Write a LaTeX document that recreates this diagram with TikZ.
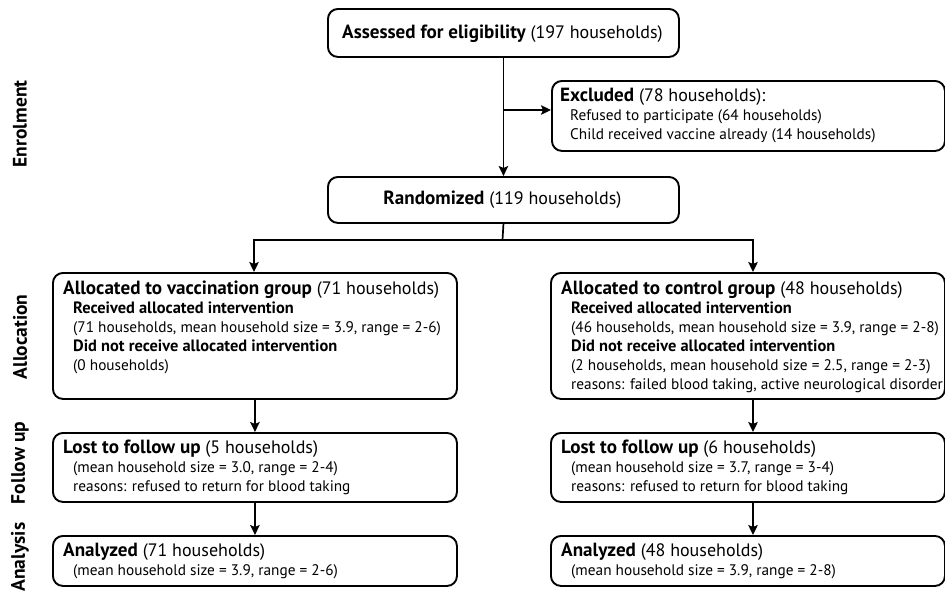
\documentclass[tikz,border=0pt]{standalone}
\usepackage{fontspec}
\setmainfont{PT Sans}
\usetikzlibrary{arrows.meta}
\newcommand\ttlfont{\fontsize{18}{19}\selectfont}
\newcommand\ttlb[1]{{\fontsize{19.1}{19}\selectfont\bfseries #1}}
\newcommand\subb[1]{{\fontsize{16.4}{19}\selectfont\bfseries #1}}
\begin{document}
\begin{tikzpicture}[x=1pt,y=-1pt,
  box/.style={draw, line width=1.9pt, rounded corners=10pt, inner sep=0pt, anchor=north west},
  txt/.style={inner sep=0pt, align=left, anchor=base west, font=\fontsize{15.3}{19}\selectfont},
  ctxt/.style={inner sep=0pt, anchor=base, font=\ttlfont},
  side/.style={rotate=90, font=\bfseries\fontsize{19.5}{20}\selectfont, inner sep=0pt},
  arr/.style={line width=1.7pt, -{Stealth[length=10pt,width=9.5pt,inset=2pt]}},
  ln/.style={line width=1.7pt}]
\useasboundingbox (0,0) rectangle (945,590);

% boxes
\node[box, minimum width=351, minimum height=48] (assess) at (327,8) {};
\node[box, minimum width=393, minimum height=70] (excl) at (551,80) {};
\node[box, minimum width=351, minimum height=46] (rand) at (327,176) {};
\node[box, minimum width=404, minimum height=126] (allocL) at (52,272) {};
\node[box, minimum width=394, minimum height=126] (allocR) at (550,272) {};
\node[box, minimum width=404, minimum height=69] (followL) at (52,432) {};
\node[box, minimum width=394, minimum height=69] (followR) at (550,432) {};
\node[box, minimum width=404, minimum height=50] (anaL) at (52,535) {};
\node[box, minimum width=394, minimum height=50] (anaR) at (550,535) {};

% texts (anchored at the baseline of their last line)
\node[ctxt] (assessT) at (502.5,38) {\ttlb{Assessed for eligibility} (197 households)};
\node[txt] (exclT) at (560,139) {{\ttlfont\ttlb{Excluded} (78 households):}\\
  \hspace*{10pt}Refused to participate (64 households)\\
  \hspace*{10pt}Child received vaccine already (14 households)};
\node[ctxt] (randT) at (502.5,204) {\ttlb{Randomized} (119 households)};

\node[txt] (allocLT) at (63,370) {{\ttlfont\ttlb{Allocated to vaccination group} (71 households)}\\
  \hspace*{10pt}\subb{Received allocated intervention}\\
  \hspace*{10pt}(71 households, mean household size = 3.9, range = 2-6)\\
  \hspace*{10pt}\subb{Did not receive allocated intervention}\\
  \hspace*{10pt}(0 households)};
\node[txt] (allocRT) at (561,389) {{\ttlfont\ttlb{Allocated to control group} (48 households)}\\
  \hspace*{10pt}\subb{Received allocated intervention}\\
  \hspace*{10pt}(46 households, mean household size = 3.9, range = 2-8)\\
  \hspace*{10pt}\subb{Did not receive allocated intervention}\\
  \hspace*{10pt}(2 households, mean household size = 2.5, range = 2-3)\\
  \hspace*{10pt}reasons: failed blood taking, active neurological disorder};

\node[txt] (followLT) at (63,491) {{\ttlfont\ttlb{Lost to follow up} (5 households)}\\
  \hspace*{10pt}(mean household size = 3.0, range = 2-4)\\
  \hspace*{10pt}reasons: refused to return for blood taking};
\node[txt] (followRT) at (561,491) {{\ttlfont\ttlb{Lost to follow up} (6 households)}\\
  \hspace*{10pt}(mean household size = 3.7, range = 3-4)\\
  \hspace*{10pt}reasons: refused to return for blood taking};

\node[txt] (anaLT) at (63,575) {{\ttlfont\ttlb{Analyzed} (71 households)}\\
  \hspace*{10pt}(mean household size = 3.9, range = 2-6)};
\node[txt] (anaRT) at (561,575) {{\ttlfont\ttlb{Analyzed} (48 households)}\\
  \hspace*{10pt}(mean household size = 3.9, range = 2-8)};

% side labels
\node[side] (sEnr) at (20,124) {Enrolment};
\node[side] (sAll) at (20,337) {Allocation};
\node[side] (sFol) at (20,463) {Follow up};
\node[side] (sAna) at (20,557) {Analysis};

% connectors
\coordinate (br) at (502.5,110);
\coordinate (sp) at (502.5,240);
\coordinate (spL) at (254,240);
\coordinate (spR) at (753,240);
\draw[arr] (assess.south) -- (rand.north);
\draw[arr] (br) -- (br -| excl.west);
\draw[arr] (rand.south) -- (sp) -| (spL |- allocL.north);
\draw[arr] (sp) -| (spR |- allocR.north);
\draw[arr] (allocL.south) -- (followL.north);
\draw[arr] (followL.south) -- (anaL.north);
\draw[arr] (spR |- allocR.south) -- (spR |- followR.north);
\draw[arr] (spR |- followR.south) -- (spR |- anaR.north);
\end{tikzpicture}
\end{document}
